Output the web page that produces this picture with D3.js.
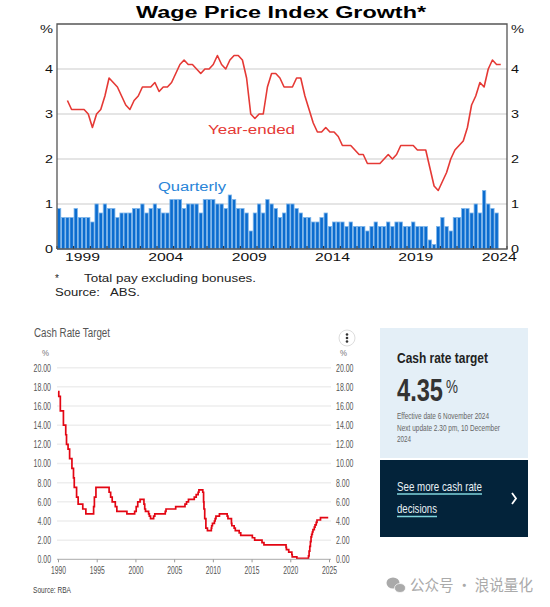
<!DOCTYPE html>
<html><head><meta charset="utf-8">
<script src="https://cdn.jsdelivr.net/npm/d3@7/dist/d3.min.js"></script>
<style>html,body{margin:0;padding:0;background:#fff;overflow:hidden}svg{display:block}text{font-family:"Liberation Sans",Arial,sans-serif}</style>
</head><body><div id="c"></div>
<script>
// Wage Price Index (first quarter 1998 Q1, last 2024 Q2)
const wpiStartYear = 1998;
const wpiQuarterly = [.9,.7,.7,.7, .9,.7,.7,.7, .6,1,.8,1, .9,.9,.7,.8, .8,.8,.9,.9, 1,.8,.9,1, .9,.8,.8,1.1,
  1.1,1.1,.9,1, 1,1,.8,1.1, 1.1,1.1,1,1, .9,1.2,1.1,.9, .9,.8,.4,.8, 1,.8,1.1,1,
  .9,.7,.8,1, 1,.9,.8,.7, .7,.6,.6,.7, .8,.5,.6,.6, .6,.5,.6,.5, .5,.5,.4,.5, .6,.5,.5,.6,
  .5,.6,.6,.5, .5,.6,.5,.5, .5,.2,.1,.5, .7,.5,.4,.7, .7,.9,.9,.8, 1,.8,1.3,1, .9,.8];
// Year-ended growth, first point 1998 Q3
const wpiYearEnded = [3.3,3.1,3.1,3.1,3.1,3.0,2.7,3.0,3.1,3.4,3.8,3.7,3.6,3.4,3.2,3.1,3.3,3.4,3.6,3.6,3.6,3.7,3.5,3.6,3.6,3.7,
  3.9,4.1,4.2,4.1,4.1,4.0,3.9,4.0,4.0,4.1,4.3,4.1,4.0,4.2,4.3,4.3,4.2,3.8,3.0,2.9,3.0,3.0,3.6,3.9,3.9,
  3.8,3.6,3.6,3.6,3.8,3.8,3.4,3.1,2.8,2.6,2.6,2.7,2.6,2.6,2.5,2.3,2.3,2.3,2.2,2.1,2.1,1.9,1.9,1.9,1.9,2.0,2.1,2.0,2.1,
  2.3,2.3,2.3,2.3,2.2,2.2,2.2,1.8,1.4,1.3,1.5,1.7,2.0,2.2,2.3,2.4,2.7,3.2,3.4,3.7,3.6,4.0,4.2,4.1,4.1];
const wpiTicksY = [0,1,2,3,4];
const wpiYearLabels = [1999,2004,2009,2014,2019,2024];
const wpiYearTicks = d3.range(1998,2026);

// Cash rate target steps
const crtYears = [1990.0,1990.1,1990.3,1990.7,1991.0,1991.1,1991.3,1991.5,1991.8,1992.0,1992.1,1992.4,1992.6,1993.2,1993.6,1994.6,1994.7,1994.9,
  1996.6,1996.8,1997.0,1997.4,1997.6,1998.9,1999.9,2000.1,2000.3,2000.6,2001.1,2001.2,2001.3,2001.7,2001.8,2001.95,2002.35,2002.5,2003.85,2003.95,
  2005.2,2006.4,2006.6,2006.85,2007.6,2007.85,2008.1,2008.2,2008.7,2008.8,2008.85,2008.95,2009.1,2009.3,2009.8,2009.85,2009.95,2010.2,2010.3,2010.4,2010.85,
  2011.85,2011.95,2012.4,2012.45,2012.75,2012.9,2013.4,2013.6,2015.1,2015.4,2016.35,2016.6,2019.45,2019.5,2019.8,2020.2,2020.25,2020.85,
  2022.35,2022.43,2022.52,2022.6,2022.68,2022.76,2022.85,2022.93,2023.1,2023.2,2023.35,2023.45,2023.9,2024.9];
const crtValues = [17.5,17,15.5,14,13,12,11.5,10.5,9.5,8.5,7.5,6.5,5.75,5.25,4.75,5.5,6.5,7.5,
  7,6.5,6,5.5,5,4.75,5,5.5,6,6.25,5.75,5.25,5,4.75,4.5,4.25,4.5,4.75,5,5.25,
  5.5,5.75,6,6.25,6.5,6.75,7,7.25,7,6,5.25,4.25,3.25,3,3.25,3.5,3.75,4,4.25,4.5,4.75,
  4.5,4.25,3.75,3.5,3.25,3,2.75,2.5,2.25,2,1.75,1.5,1.25,1,.75,.5,.25,.1,
  .35,.85,1.35,1.85,2.35,2.6,2.85,3.1,3.35,3.6,3.85,4.1,4.35,4.35];
const crtTicksY = d3.range(0,21,2);
const crtTicksX = d3.range(1990,2026,5);

const W=550,H=607;
const svg=d3.select("#c").append("svg").attr("width",W).attr("height",H);

// Text placed at a fixed measured width, as the source images are stretched / squeezed
function label(x,y,t,o={}){
  const e=svg.append("text").attr("x",x).attr("y",y).text(t)
    .attr("font-size",o.size||10).attr("fill",o.fill||"#222")
    .attr("text-anchor",o.anchor||"start");
  if(o.weight)e.attr("font-weight",o.weight);
  if(o.family)e.style("font-family",o.family);
  if(o.w)e.attr("textLength",o.w).attr("lengthAdjust","spacingAndGlyphs");
  if(o.scaleTo){
    const k=o.scaleTo/e.node().getComputedTextLength();
    e.attr("x",0).attr("y",0).attr("transform",`translate(${x},${y}) scale(${k},1)`);
  }
  return e;
}
function fit(sel,wf){
  sel.each(function(d){const w=wf(d,this.textContent);d3.select(this).attr("textLength",w).attr("lengthAdjust","spacingAndGlyphs");});
}

// ===== Top chart =====
const tx=d3.scaleLinear().domain([1998,2025]).range([57,507]);
const ty=d3.scaleLinear().domain([0,5]).range([249,24]);
const qw=tx(1998.25)-tx(1998);

const tg=svg.append("g");
tg.selectAll("line.g").data(wpiTicksY.slice(1)).join("line").attr("class","g")
  .attr("x1",tx.range()[0]).attr("x2",tx.range()[1]).attr("y1",d=>ty(d)).attr("y2",d=>ty(d))
  .attr("stroke","#dcdcdc").attr("stroke-width",1.6);

tg.selectAll("rect").data(wpiQuarterly).join("rect")
  .attr("x",(d,i)=>tx(wpiStartYear+i/4)+.4).attr("width",qw-.8)
  .attr("y",d=>ty(d)).attr("height",d=>ty(0)-ty(d))
  .attr("fill","#0b6ccf").attr("stroke","#7fb6ea").attr("stroke-width",.8);

// inner year ticks
tg.selectAll("line.t").data(wpiYearTicks).join("line").attr("class","t")
  .attr("x1",d=>tx(d)).attr("x2",d=>tx(d)).attr("y1",ty(0)).attr("y2",ty(0)-3)
  .attr("stroke","#222").attr("stroke-width",1);

const yeLine=d3.line().x((d,i)=>tx(wpiStartYear+(i+2.5)/4)).y(d=>ty(d));
tg.append("path").attr("d",yeLine(wpiYearEnded)).attr("fill","none").attr("stroke","#e53935").attr("stroke-width",1.6).attr("stroke-linejoin","round");

// frame
tg.append("path").attr("fill","none").attr("stroke","#555").attr("stroke-width",1.3)
  .attr("d",`M${tx(1998)},${ty(0)}V${ty(5)}H${tx(2025)}V${ty(0)}H${tx(1998)}`);

const topL=d3.axisLeft(ty).tickValues(wpiTicksY).tickSize(0).tickPadding(4).tickFormat(d3.format("d"));
const topR=d3.axisRight(ty).tickValues(wpiTicksY).tickSize(0).tickPadding(4).tickFormat(d3.format("d"));
const topB=d3.axisBottom(tx).tickValues(wpiYearLabels.map(d=>d+.5)).tickSize(0).tickPadding(4).tickFormat(d=>Math.floor(d));
[[topL,`translate(${tx(1998)},0)`],[topR,`translate(${tx(2025)},0)`],[topB,`translate(0,${ty(0)})`]].forEach(([a,t],k)=>{
  const g=svg.append("g").attr("transform",t).call(a);
  g.select(".domain").remove();
  g.selectAll("text").attr("font-size",11).attr("fill","#111").style("font-family",'"Liberation Sans",Arial,sans-serif');
  fit(g.selectAll("text"),()=>k==2?35:8);
});
label(136,18,"Wage Price Index Growth*",{size:16,weight:"bold",fill:"#000",w:290});
label(40,33,"%",{size:11,w:13});
label(511,33,"%",{size:11,w:13});
label(208,134,"Year-ended",{size:12,fill:"#e53935",w:87});
label(158,191,"Quarterly",{size:12,fill:"#2a85d8",w:68});
label(55,282,"*",{size:10,fill:"#222"});
label(84,282,"Total pay excluding bonuses.",{size:10,fill:"#222",w:172});
label(55,296,"Source:",{size:10,fill:"#222",w:45});
label(110,296,"ABS.",{size:10,fill:"#222",w:30});

// ===== Bottom chart =====
const bx=d3.scaleLinear().domain([1990,2025]).range([58,329]);
const by=d3.scaleLinear().domain([0,20]).range([559.3,367.7]);
const bg=svg.append("g");
bg.selectAll("line").data(crtTicksY.slice(1)).join("line")
  .attr("x1",57).attr("x2",331).attr("y1",d=>by(d)).attr("y2",d=>by(d))
  .attr("stroke","#eeeeee").attr("stroke-width",1.5);
const crtPts=crtYears.map((y,i)=>[y,crtValues[i]]);
bg.append("path").attr("d",d3.line().x(d=>bx(d[0])).y(d=>by(d[1])).curve(d3.curveStepAfter)(crtPts))
  .attr("fill","none").attr("stroke","#e30613").attr("stroke-width",1.7);

const botB=d3.axisBottom(bx).tickValues(crtTicksX).tickSize(3).tickPadding(4).tickFormat(d3.format("d"));
const gB=svg.append("g").attr("transform",`translate(0,${by(0)})`).call(botB);
gB.select(".domain").attr("stroke","#bbb").attr("stroke-width",1.3).attr("d",`M57,0H331`);
gB.selectAll("line").attr("stroke","#999");
gB.selectAll("text").attr("font-size",10.5).attr("fill","#555").style("font-family",'"Liberation Sans",Arial,sans-serif');
fit(gB.selectAll("text"),()=>15);

const fmt=d3.format(".2f");
[[d3.axisLeft,51,"end"],[d3.axisRight,336,"start"]].forEach(([A,x,anc])=>{
  const g=svg.append("g").attr("transform",`translate(${x},0)`).call(A(by).tickValues(crtTicksY).tickSize(0).tickPadding(0).tickFormat(fmt));
  g.select(".domain").remove();
  g.selectAll("text").attr("font-size",10.5).attr("fill","#555").style("font-family",'"Liberation Sans",Arial,sans-serif');
  fit(g.selectAll("text"),(d)=>d<10?13.5:17.5);
});
label(34,337,"Cash Rate Target",{size:12.5,fill:"#555",w:76});
label(42,356,"%",{size:9.5,fill:"#777",w:7});
label(340,356,"%",{size:9.5,fill:"#777",w:7});
label(33,593,"Source: RBA",{size:9.5,fill:"#444",w:38});

// kebab button
svg.append("circle").attr("cx",347).attr("cy",338).attr("r",8).attr("fill","#fff").attr("stroke","#ddd");
svg.selectAll("circle.k").data([-3.5,0,3.5]).join("circle").attr("class","k")
  .attr("cx",347).attr("cy",d=>338+d).attr("r",1.3).attr("fill","#333");

// ===== Side panel =====
svg.append("rect").attr("x",380).attr("y",328).attr("width",148).attr("height",130).attr("fill","#e4eff7");
svg.append("rect").attr("x",380).attr("y",460).attr("width",148).attr("height",77).attr("fill","#03233a");
label(397,363,"Cash rate target",{size:15,weight:"bold",fill:"#222",w:91});
label(397,401,"4.35",{size:31,weight:"bold",fill:"#333",scaleTo:46});
label(446,393,"%",{size:18,fill:"#333",scaleTo:12});
label(397,419,"Effective date 6 November 2024",{size:9.5,fill:"#666",w:92});
label(397,431,"Next update 2.30 pm, 10 December",{size:9,fill:"#666",w:103});
label(397,441.5,"2024",{size:9,fill:"#666",w:14});
label(397,491,"See more cash rate",{size:13.5,fill:"#e8f1f5",w:85});
svg.append("line").attr("x1",397).attr("x2",482).attr("y1",494).attr("y2",494).attr("stroke","#7fd4dc").attr("stroke-width",1.3);
label(397,513,"decisions",{size:13.5,fill:"#e8f1f5",w:40});
svg.append("line").attr("x1",397).attr("x2",437).attr("y1",516.5).attr("y2",516.5).attr("stroke","#7fd4dc").attr("stroke-width",1.3);
svg.append("path").attr("d","M512,493L516,498.5L512,504").attr("fill","none").attr("stroke","#fff").attr("stroke-width",1.8);

// watermark
svg.append("ellipse").attr("cx",393).attr("cy",583).attr("rx",6.5).attr("ry",5.5).attr("fill","#aaa");
svg.append("ellipse").attr("cx",400).attr("cy",588).attr("rx",5.5).attr("ry",4.5).attr("fill","#aaa").attr("stroke","#fff").attr("stroke-width",.7);
label(410,591,"公众号 · 浪说量化",{size:15.5,fill:"#aaa",family:'"Noto Sans CJK SC"',w:123});
</script></body></html>
